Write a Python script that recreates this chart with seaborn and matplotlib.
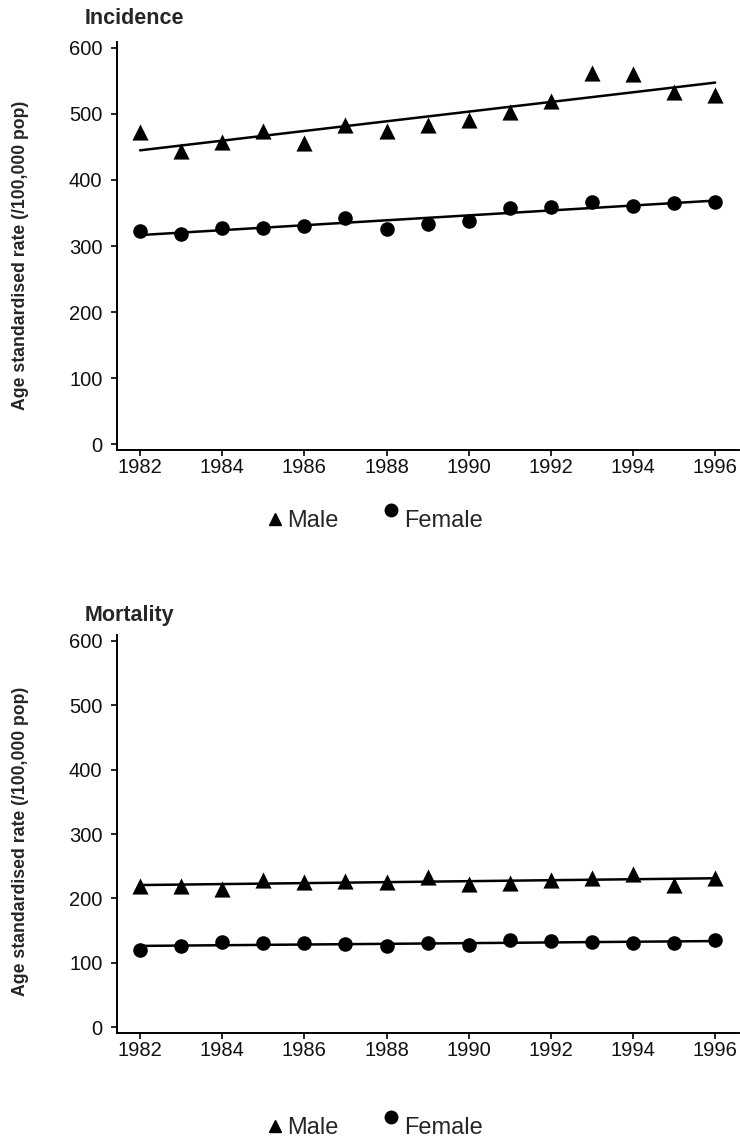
import matplotlib
matplotlib.use("Agg")
import matplotlib.pyplot as plt
from matplotlib.lines import Line2D
from matplotlib.path import Path
import numpy as np
import seaborn as sns

# Age standardised rates per 100,000 population, 1982-1996
years = [1982, 1983, 1984, 1985, 1986, 1987, 1988, 1989, 1990,
         1991, 1992, 1993, 1994, 1995, 1996]

incidence_male = [472, 444, 457, 474, 456, 484, 474, 483, 491,
                  503, 520, 562, 561, 533, 529]
incidence_female = [322, 318, 327, 328, 330, 343, 326, 333, 338,
                    357, 359, 367, 360, 365, 367]

mortality_male = [220, 220, 215, 228, 225, 227, 225, 234, 223,
                  224, 228, 231, 238, 221, 231]
mortality_female = [120, 126, 132, 131, 131, 129, 126, 130, 128,
                    135, 134, 132, 131, 130, 135]

x_ticks = [1982, 1984, 1986, 1988, 1990, 1992, 1994, 1996]
y_ticks = [0, 100, 200, 300, 400, 500, 600]
panel_titles = ["Incidence", "Mortality"]
series_names = ["Male", "Female"]
y_label = "Age standardised rate (/100,000 pop)"

sns.set_theme(style="ticks")
plt.rcParams["font.family"] = ["Liberation Sans", "DejaVu Sans"]

W, H = 740, 1142
fig = plt.figure(figsize=(W / 100, H / 100), dpi=100)

# axes boxes in pixel units: left, top, right, bottom
boxes = [(117, 42, 739, 450), (117, 635, 739, 1033)]
title_y = [19, 615]
ylabel_y = [255, 841]
legend_y = [521, 1128]

# legend dot sits above the text line
raised_dot = Path.circle(center=(0.0, 1.3), radius=1.0)

panels = [(incidence_male, incidence_female), (mortality_male, mortality_female)]

for i, (male, female) in enumerate(panels):
    l, t, r, b = boxes[i]
    ax = fig.add_axes([l / W, 1 - b / H, (r - l) / W, (b - t) / H])

    sns.regplot(x=np.array(years), y=np.array(male), ax=ax, ci=None,
                marker="^", color="black",
                scatter_kws={"s": 135, "linewidths": 0, "alpha": 1},
                line_kws={"lw": 1.8})
    sns.regplot(x=np.array(years), y=np.array(female), ax=ax, ci=None,
                marker="o", color="black",
                scatter_kws={"s": 110, "linewidths": 0, "alpha": 1},
                line_kws={"lw": 1.8})

    ax.set_xlim(1981.44, 1996.58)
    ax.set_ylim(-9, 609)
    ax.set_xticks(x_ticks)
    ax.set_yticks(y_ticks)
    ax.set_xlabel("")
    ax.set_ylabel("")
    sns.despine(ax=ax)
    for side in ("left", "bottom"):
        ax.spines[side].set_linewidth(1.4)
        ax.spines[side].set_color("black")
    ax.tick_params(axis="both", which="major", direction="out", length=4.5,
                   width=1.2, color="black", labelsize=14.5,
                   labelcolor="#111111")
    ax.tick_params(axis="y", pad=6)
    ax.tick_params(axis="x", pad=1.5)

    fig.text(85 / W, 1 - title_y[i] / H, panel_titles[i], fontsize=15.5,
             fontweight="bold", ha="left", va="center")
    fig.text(21 / W, 1 - ylabel_y[i] / H, y_label, fontsize=12.7,
             fontweight="bold", rotation=90, ha="center", va="center")

    handles = [
        Line2D([], [], marker="^", ls="none", color="black", ms=9),
        Line2D([], [], marker=raised_dot, ls="none", color="black", ms=23,
               markeredgewidth=0),
    ]
    fig.legend(handles, series_names, loc="center",
               bbox_to_anchor=(375 / W, 1 - legend_y[i] / H), ncol=2,
               frameon=False, fontsize=17, handlelength=0.6,
               handletextpad=0.25, columnspacing=1.9)

fig.savefig("out.png", dpi=100, facecolor="white")
